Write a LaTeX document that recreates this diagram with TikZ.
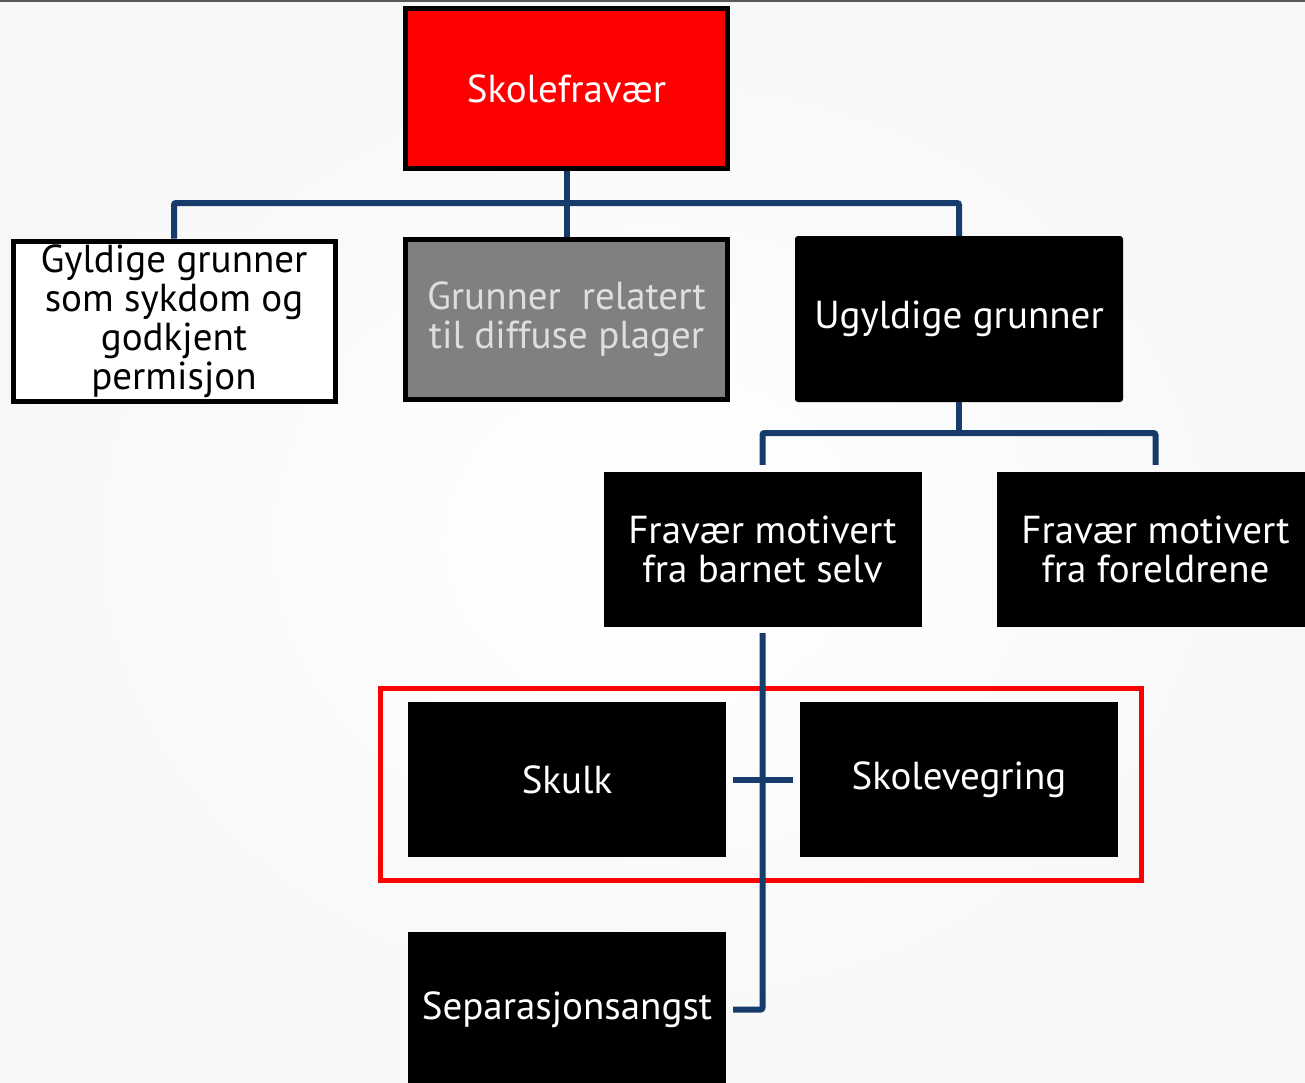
\documentclass[tikz,border=0pt]{standalone}
\usepackage{fontspec}
\setmainfont{PT Sans}
\definecolor{linkblue}{RGB}{23,60,108}
\definecolor{framered}{RGB}{255,0,0}
\definecolor{midgray}{RGB}{128,128,128}
\definecolor{palegray}{RGB}{222,222,222}
\begin{document}
\begin{tikzpicture}[x=1pt,y=-1pt,
    box/.style={rectangle, minimum width=318pt, minimum height=155pt, inner sep=0pt,
        align=center, font=\fontsize{39}{39}\selectfont},
    blackbox/.style={box, fill=black, text=white},
    framedbox/.style={box, draw=black, line width=5pt, minimum width=322pt, minimum height=160pt},
    conn/.style={draw=linkblue, line width=6pt, rounded corners=2pt},
    redframe/.style={draw=framered, line width=5pt}]
    % background
    \useasboundingbox (0,0) rectangle (1305,1082);
    \shade[inner color=white, outer color=gray!6] (0,0) rectangle (1305,1082);
    \draw[gray!70!black, line width=1.5pt] (0,1) -- (1305,1);
    % top level
    \node[framedbox, fill=red, text=white] (skole) at (566.5,88.5) {Skolefravær};
    \node[framedbox, fill=white, text=black] (gyldige) at (174,321) {Gyldige grunner\\som sykdom og\\godkjent\\permisjon};
    \node[framedbox, fill=midgray, text=palegray] (diffuse) at (566.5,319) {Grunner~~relatert\\til diffuse plager};
    \node[blackbox, rounded corners=3pt, minimum width=328pt, minimum height=166pt] (ugyldige) at (959,319) {Ugyldige grunner};
    \coordinate (bus1) at (566.5,203);
    \draw[conn] (skole) -- (bus1);
    \draw[conn] (diffuse.north) -- (bus1);
    \draw[conn] (gyldige.north) |- (bus1) -| (ugyldige.north);
    % second level
    \node[blackbox] (barnet) at (762.5,549.5) {Fravær motivert\\fra barnet selv};
    \node[blackbox] (foreldre) at (1155.5,549.5) {Fravær motivert\\fra foreldrene};
    \coordinate (bus2) at (959,433);
    \draw[conn] (ugyldige.south) -- (bus2);
    \draw[conn, shorten <=7pt, shorten >=7pt] (barnet.north) |- (bus2) -| (foreldre.north);
    % third level
    \draw[redframe] (380.5,688.5) rectangle (1141.5,880.5);
    \node[blackbox] (skulk) at (567,779.5) {Skulk};
    \node[blackbox] (vegring) at (959,779.5) {Skolevegring};
    \node[blackbox] (separasjon) at (567,1009.5) {Separasjonsangst};
    \draw[conn, shorten <=6pt, shorten >=7pt] (barnet.south) |- (separasjon.east);
    \draw[conn, shorten <=7pt, shorten >=7pt] (skulk.east) -- (vegring.west);
\end{tikzpicture}
\end{document}
